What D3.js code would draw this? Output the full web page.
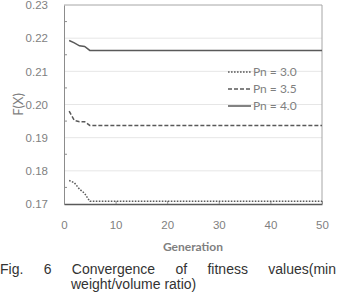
<!DOCTYPE html>
<html>
<head>
<meta charset="utf-8">
<script src="https://cdn.jsdelivr.net/npm/d3@7"></script>
<style>
  body { margin: 0; background: #fff; }
  svg { display: block; }
</style>
</head>
<body>
<div id="root"></div>
<script>
// values; after generation 5 every series stays flat
const generations = [1, 2, 3, 4, 5, 50];
const pn30 = [0.1771, 0.1764, 0.1745, 0.1732, 0.1708, 0.1708];
const pn35 = [0.1980, 0.1952, 0.1948, 0.1948, 0.1937, 0.1937];
const pn40 = [0.2193, 0.2186, 0.2177, 0.2175, 0.2163, 0.2163];
const seriesNames = ["Pn = 3.0", "Pn = 3.5", "Pn = 4.0"];
const xTicks = [0, 10, 20, 30, 40, 50];
const yTicks = [0.17, 0.18, 0.19, 0.20, 0.21, 0.22, 0.23];
const yMinorTicks = [0.175, 0.185, 0.195, 0.205, 0.215, 0.225];
const captionLine1 = ["Fig.", "6", "Convergence", "of", "fitness", "values(min"];
const captionLine2 = "weight/volume ratio)";

const W = 337, H = 293;
const margin = {top: 5, right: 15, bottom: 89, left: 64};
const grey = "#7f7f7f";
const lineColor = "#595959";
const dashes = ["1.6,1.4", "4,2", null];

const svg = d3.select("#root").append("svg")
    .attr("width", W)
    .attr("height", H)
    .style("font-family", "Lato, 'Open Sans', sans-serif");

const x = d3.scaleLinear().domain([0, 50]).range([margin.left, W - margin.right]);
const y = d3.scaleLinear().domain([0.17, 0.23]).range([H - margin.bottom, margin.top]);

// gridlines
svg.append("g")
    .selectAll("line")
    .data(yTicks.slice(1, -1))
    .enter()
    .append("line")
        .attr("x1", x(0))
        .attr("x2", x(50))
        .attr("y1", d => y(d))
        .attr("y2", d => y(d))
        .attr("stroke", "#e6e6e6")
        .attr("stroke-width", 1);

// plot frame (top, right)
svg.append("path")
    .attr("d", `M${x(0)},${y(0.23)}H${x(50)}V${y(0.17)}`)
    .attr("fill", "none")
    .attr("stroke", "#a6a6a6")
    .attr("stroke-width", 1);

// y axis
const yAxis = d3.axisLeft(y)
    .tickValues(yTicks)
    .tickSize(0)
    .tickPadding(16)
    .tickFormat(d3.format(".2f"));

const gy = svg.append("g")
    .attr("transform", `translate(${x(0)},0)`)
    .call(yAxis);
gy.select(".domain").attr("stroke", "#8c8c8c");
gy.selectAll("text").attr("fill", grey).style("font-size", "11.5px");

svg.append("g")
    .selectAll("line")
    .data(yMinorTicks)
    .enter()
    .append("line")
        .attr("x1", x(0))
        .attr("x2", x(0) + 3)
        .attr("y1", d => y(d))
        .attr("y2", d => y(d))
        .attr("stroke", "#8c8c8c");

// x axis
const xAxis = d3.axisBottom(x)
    .tickValues(xTicks)
    .tickSizeInner(-3)
    .tickSizeOuter(0)
    .tickPadding(17)
    .tickFormat(d3.format("d"));

const gx = svg.append("g")
    .attr("transform", `translate(0,${y(0.17)})`)
    .call(xAxis);
gx.select(".domain").attr("stroke", "#595959").attr("stroke-width", 1.3);
gx.selectAll(".tick line").attr("stroke", "#8c8c8c");
gx.selectAll("text").attr("fill", grey).style("font-size", "11.5px");

// series
const series = [pn30, pn35, pn40];
const line = d3.line()
    .x((d, i) => x(generations[i]))
    .y(d => y(d));

svg.append("g")
    .selectAll("path")
    .data(series)
    .enter()
    .append("path")
        .attr("d", d => line(d))
        .attr("fill", "none")
        .attr("stroke", lineColor)
        .attr("stroke-width", 1.5)
        .attr("stroke-dasharray", (d, i) => dashes[i]);

// legend
const legend = svg.append("g")
    .attr("transform", "translate(228,72)");

const rows = legend.selectAll("g")
    .data(seriesNames)
    .enter()
    .append("g")
        .attr("transform", (d, i) => `translate(0,${i * 17})`);

rows.append("line")
    .attr("x1", 0)
    .attr("x2", 23)
    .attr("y1", 0)
    .attr("y2", 0)
    .attr("stroke", lineColor)
    .attr("stroke-width", 1.5)
    .attr("stroke-dasharray", (d, i) => dashes[i]);

rows.append("text")
    .attr("x", 25)
    .attr("y", 4)
    .attr("fill", grey)
    .style("font-size", "12px")
    .text(d => d);

// axis titles
svg.append("text")
    .attr("x", (x(0) + x(50)) / 2)
    .attr("y", 251)
    .attr("text-anchor", "middle")
    .attr("fill", grey)
    .style("font-size", "12px")
    .style("font-weight", "bold")
    .text("Generation");

svg.append("text")
    .attr("transform", `translate(23,${y(0.20)}) rotate(-90)`)
    .attr("text-anchor", "middle")
    .attr("fill", grey)
    .style("font-size", "13px")
    .text("F(X)");

// caption, justified over the full width like the paper
const cap = svg.append("g")
    .style("font-family", "'Liberation Sans', Arial, sans-serif")
    .style("font-size", "14px")
    .attr("fill", "#333");

const words = cap.selectAll("text.w")
    .data(captionLine1)
    .enter()
    .append("text")
        .attr("class", "w")
        .attr("y", 274)
        .text(d => d);

const widths = [];
words.each(function() { widths.push(this.getComputedTextLength()); });
const gap = (W - 1 - d3.sum(widths)) / (captionLine1.length - 1);
let cx = 0;
words.attr("x", (d, i) => {
    const pos = cx;
    cx += widths[i] + gap;
    return pos;
});

cap.append("text")
    .attr("x", 71)
    .attr("y", 289)
    .text(captionLine2);
</script>
</body>
</html>
